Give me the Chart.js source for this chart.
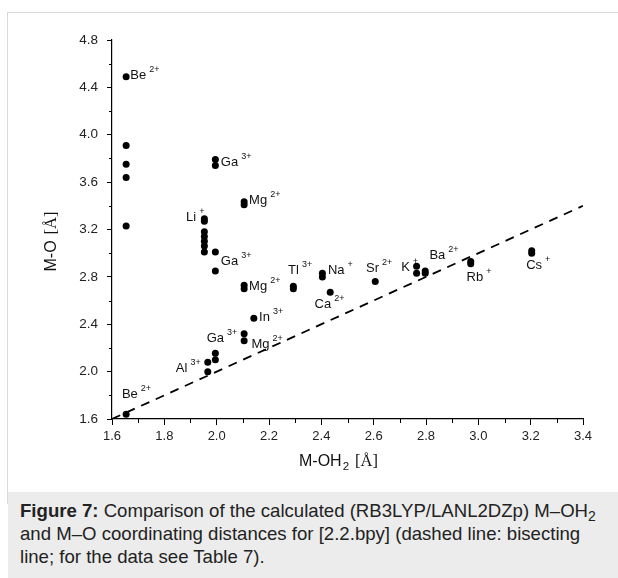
<!DOCTYPE html>
<html><head><meta charset="utf-8">
<script src="https://cdn.jsdelivr.net/npm/chart.js@4.4.1/dist/chart.umd.min.js"></script>
<style>
html,body{margin:0;padding:0;background:#fff;width:618px;height:578px;overflow:hidden;font-family:"Liberation Sans",Arial,sans-serif;}
#frame{position:absolute;left:7px;top:12px;width:640px;height:490px;border:1px solid #d9d9d9;background:#fff;}
#chartWrap{position:absolute;left:0;top:0;width:618px;height:492px;}
#caption{position:absolute;left:8px;top:492px;width:620px;height:86px;background:#ececec;}
#caption p{margin:0;position:absolute;left:12px;top:7px;font-size:18.6px;line-height:23px;color:#222;white-space:nowrap;}
#caption sub{font-size:14px;line-height:0;vertical-align:-4px;}
</style>
</head><body>
<div id="frame"></div>
<div id="chartWrap"><canvas id="c" width="618" height="492"></canvas></div>
<div id="caption"><p><b>Figure 7:</b> Comparison of the calculated (RB3LYP/LANL2DZp) M–OH<sub>2</sub><br>and M–O coordinating distances for [2.2.bpy] (dashed line: bisecting<br>line; for the data see Table 7).</p></div>
<script>
// ---- data ----
const xTicks = [1.6, 1.8, 2.0, 2.2, 2.4, 2.6, 2.8, 3.0, 3.2, 3.4];
const yTicks = [1.6, 2.0, 2.4, 2.8, 3.2, 3.6, 4.0, 4.4, 4.8];

// M-OH2 (x) and M-O (y) distances, one entry per point
const pointIon = ['Be','Be','Be','Be','Be','Be',
  'Li','Li','Li','Li','Li','Li','Li',
  'Al','Al',
  'Ga','Ga','Ga','Ga','Ga','Ga',
  'Mg','Mg','Mg','Mg','Mg','Mg',
  'In','Tl','Tl','Na','Na','Ca','Sr','K','K','Ba','Ba','Rb','Rb','Cs','Cs'];
const mOH2 = [1.654,1.654,1.654,1.654,1.654,1.654,
  1.953,1.953,1.953,1.953,1.953,1.953,1.953,
  1.966,1.966,
  1.995,1.995,1.995,1.995,1.995,1.995,
  2.105,2.105,2.105,2.105,2.105,2.105,
  2.142,2.293,2.293,2.404,2.404,2.434,2.606,2.764,2.764,2.797,2.797,2.971,2.971,3.204,3.204];
const mO = [4.49,3.91,3.75,3.64,3.23,1.64,
  3.29,3.27,3.18,3.14,3.10,3.06,3.01,
  2.08,2.00,
  3.79,3.74,3.01,2.85,2.155,2.10,
  3.435,3.41,2.73,2.70,2.32,2.26,
  2.45,2.72,2.70,2.83,2.80,2.67,2.76,2.89,2.83,2.85,2.83,2.93,2.91,3.02,3.00];

// bisecting line y = x
const bisector = [1.6, 3.4];

// point labels: ion, charge, anchor in data units (text start, baseline)
const labelIon    = ['Be','Ga','Mg','Li','Ga','Mg','In','Ga','Mg','Al','Be','Tl','Na','Ca','Sr','K','Ba','Rb','Cs'];
const labelCharge = ['2+','3+','2+','+','3+','2+','3+','3+','2+','3+','2+','3+','+','2+','2+','+','2+','+','+'];
const labelX      = [1.670,2.016,2.124,1.883,2.016,2.124,2.162,1.962,2.133,1.844,1.638,2.273,2.425,2.374,2.571,2.705,2.813,2.955,3.183];
const labelY      = [4.469,3.737,3.416,3.275,2.898,2.690,2.428,2.253,2.202,1.999,1.775,2.825,2.825,2.535,2.839,2.853,2.949,2.768,2.864];

// ---- chart ----
const SANS = '"Liberation Sans", Arial, sans-serif';
const SERIF = '"Liberation Serif", "Times New Roman", serif';

const decorPlugin = {
  id: 'decor',
  afterDraw(chart) {
    const ctx = chart.ctx;
    const xs = chart.scales.x, ys = chart.scales.y;
    const a = chart.chartArea;
    ctx.save();
    // minor ticks
    ctx.strokeStyle = '#000';
    ctx.lineWidth = 1;
    ctx.beginPath();
    for (let i = 0; i < xTicks.length - 1; i++) {
      const v = (xTicks[i] + xTicks[i + 1]) / 2;
      const px = Math.round(xs.getPixelForValue(v)) + 0.5;
      ctx.moveTo(px, a.bottom); ctx.lineTo(px, a.bottom + 4);
    }
    for (let i = 0; i < yTicks.length - 1; i++) {
      const v = (yTicks[i] + yTicks[i + 1]) / 2;
      const py = Math.round(ys.getPixelForValue(v)) + 0.5;
      ctx.moveTo(a.left, py); ctx.lineTo(a.left - 3, py);
    }
    ctx.stroke();

    // point labels
    ctx.fillStyle = '#111';
    ctx.textBaseline = 'alphabetic';
    ctx.textAlign = 'left';
    for (let i = 0; i < labelIon.length; i++) {
      const px = xs.getPixelForValue(labelX[i]);
      const py = ys.getPixelForValue(labelY[i]);
      ctx.font = '13px ' + SANS;
      ctx.fillText(labelIon[i], px, py);
      const w = ctx.measureText(labelIon[i]).width;
      ctx.font = '9px ' + SANS;
      ctx.fillText(labelCharge[i], px + w + 3, py - 7);
    }

    // x axis title: M-OH2 [Å]
    const xc = (a.left + a.right) / 2 - 9;
    const xb = a.bottom + 47;
    ctx.font = '16px ' + SANS;
    const w1 = ctx.measureText('M-OH').width;
    ctx.font = '11.5px ' + SANS;
    const w2 = ctx.measureText('2').width;
    ctx.font = '16.5px ' + SERIF;
    const w3 = ctx.measureText('[Å]').width;
    const gap = 7;
    let sx = xc - (w1 + w2 + gap + w3) / 2;
    ctx.font = '16px ' + SANS; ctx.fillText('M-OH', sx, xb);
    ctx.font = '11.5px ' + SANS; ctx.fillText('2', sx + w1 + 1, xb + 4);
    ctx.font = '16.5px ' + SERIF; ctx.fillText('[Å]', sx + w1 + w2 + gap, xb);

    // y axis title: M-O [Å]
    ctx.translate(a.left - 56, (a.top + a.bottom) / 2 + 12);
    ctx.rotate(-Math.PI / 2);
    ctx.font = '16px ' + SANS;
    const v1 = ctx.measureText('M-O').width;
    ctx.font = '16.5px ' + SERIF;
    const v2 = ctx.measureText('[Å]').width;
    const g2 = 6;
    const sy = -(v1 + g2 + v2) / 2;
    ctx.font = '16px ' + SANS; ctx.fillText('M-O', sy, 0);
    ctx.font = '16.5px ' + SERIF; ctx.fillText('[Å]', sy + v1 + g2, 0);
    ctx.restore();
  }
};

new Chart(document.getElementById('c'), {
  type: 'scatter',
  data: {
    datasets: [
      {
        type: 'scatter',
        label: 'M-O vs M-OH2',
        data: mOH2.map((x, i) => ({ x: x, y: mO[i] })),
        backgroundColor: '#000',
        borderColor: '#000',
        pointRadius: 3.5,
        pointBorderWidth: 0,
        order: 1
      },
      {
        type: 'line',
        label: 'bisecting line',
        data: bisector.map(v => ({ x: v, y: v })),
        borderColor: '#000',
        borderWidth: 1.8,
        borderDash: [9, 7],
        pointRadius: 0,
        fill: false,
        order: 2
      }
    ]
  },
  options: {
    responsive: false,
    animation: false,
    devicePixelRatio: 1,
    layout: { padding: { left: 0, right: 35, top: 40, bottom: 0 } },
    plugins: { legend: { display: false }, tooltip: { enabled: false } },
    scales: {
      x: {
        type: 'linear', min: 1.6, max: 3.4,
        afterBuildTicks: s => { s.ticks = xTicks.map(v => ({ value: v })); },
        afterFit: s => { s.height = 73; },
        ticks: { callback: v => v.toFixed(1), color: '#222', font: { family: SANS, size: 13 }, padding: 4, maxRotation: 0, autoSkip: false },
        grid: { drawOnChartArea: false, drawTicks: true, tickLength: 6, tickColor: '#000', tickWidth: 1 },
        border: { display: true, color: '#000', width: 1.2 }
      },
      y: {
        type: 'linear', min: 1.6, max: 4.8,
        afterBuildTicks: s => { s.ticks = yTicks.map(v => ({ value: v })); },
        afterFit: s => { s.width = 112; },
        ticks: { callback: v => v.toFixed(1), color: '#222', font: { family: SANS, size: 13.5 }, padding: 9, autoSkip: false },
        grid: { drawOnChartArea: false, drawTicks: true, tickLength: 5, tickColor: '#000', tickWidth: 1 },
        border: { display: true, color: '#000', width: 1.2 }
      }
    }
  },
  plugins: [decorPlugin]
});
</script>
</body></html>
